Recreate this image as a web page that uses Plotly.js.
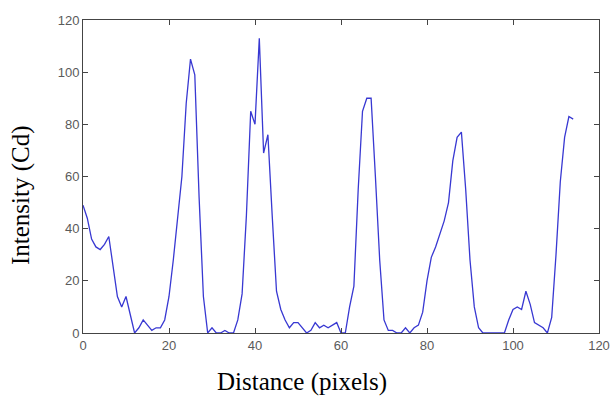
<!DOCTYPE html>
<html>
<head>
<meta charset="utf-8">
<script src="https://cdn.plot.ly/plotly-3.0.1.min.js"></script>
<style>html,body{margin:0;padding:0;background:#fff;}#chart{width:610px;height:397px;}</style>
</head>
<body>
<div id="chart"></div>
<script>
// Distance (pixels) samples
const distance = [];
for (let i = 0; i <= 114; i++) distance.push(i);
// Intensity (Cd) values
const intensity = [
  49, 44, 36, 33, 32, 34, 37, 26, 14, 10,
  14, 7, 0, 2, 5, 3, 1, 2, 2, 5,
  14, 28, 44, 60, 88, 105, 99, 52, 14, 0,
  2, 0, 0, 1, 0, 0, 5, 15, 45, 85,
  80, 113, 69, 76, 45, 16, 9, 5, 2, 4,
  4, 2, 0, 1, 4, 2, 3, 2, 3, 4,
  0, 0, 10, 18, 55, 85, 90, 90, 60, 28,
  5, 1, 1, 0, 0, 2, 0, 2, 3, 8,
  20, 29, 33, 38, 43, 50, 66, 75, 77, 55,
  28, 10, 2, 0, 0, 0, 0, 0, 0, 5,
  9, 10, 9, 16, 11, 4, 3, 2, 0, 6,
  30, 58, 75, 83, 82
];
const xTicks = [0, 20, 40, 60, 80, 100, 120];
const yTicks = [0, 20, 40, 60, 80, 100, 120];
const xTitle = "Distance (pixels)";
const yTitle = "Intensity (Cd)";

const trace = {
  x: distance, y: intensity, type: "scatter", mode: "lines",
  line: {color: "#3838d2", width: 1.3}, hoverinfo: "skip"
};
const axisCommon = {
  showline: true, linecolor: "#444", linewidth: 1, mirror: "ticks",
  ticks: "inside", ticklen: 5, tickwidth: 1, tickcolor: "#444",
  showgrid: false, zeroline: false,
  tickfont: {family: "Liberation Sans, Arial, sans-serif", size: 13, color: "#5a5a5a"}
};
const layout = {
  width: 610, height: 397,
  margin: {l: 83, r: 11, t: 20, b: 64},
  paper_bgcolor: "#fff", plot_bgcolor: "#fff",
  showlegend: false,
  xaxis: Object.assign({}, axisCommon, {range: [0, 120], tickvals: xTicks, ticktext: xTicks.map(String)}),
  yaxis: Object.assign({}, axisCommon, {range: [0, 120], tickvals: yTicks, ticktext: yTicks.map(String)}),
  annotations: [
    {text: xTitle, xref: "paper", yref: "paper", x: 0.424, y: -0.158, xanchor: "center", yanchor: "middle",
     showarrow: false, font: {family: "Liberation Serif, Times New Roman, serif", size: 25, color: "#000"}},
    {text: yTitle, xref: "paper", yref: "paper", x: -0.120, y: 0.441, xanchor: "center", yanchor: "middle",
     textangle: -90, showarrow: false, font: {family: "Liberation Serif, Times New Roman, serif", size: 25, color: "#000"}}
  ]
};
Plotly.newPlot("chart", [trace], layout, {displayModeBar: false, staticPlot: true});
</script>
</body>
</html>
